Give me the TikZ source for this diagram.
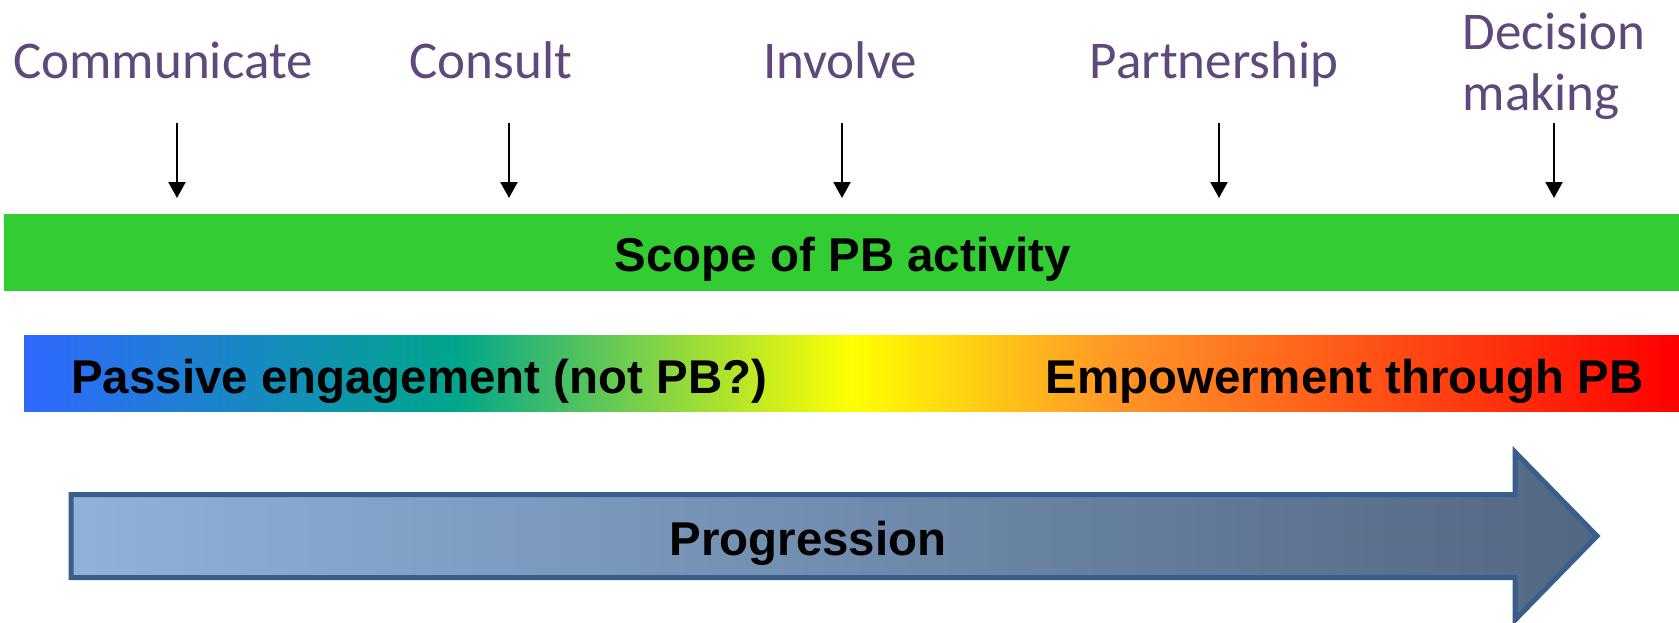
\documentclass[tikz,border=0pt]{standalone}
\usepackage{fontspec}
\setmainfont{Liberation Sans}
\newfontfamily\lblfont{Carlito}
\usetikzlibrary{arrows.meta,positioning}
\definecolor{lblpurple}{RGB}{95,73,122}
\definecolor{scopegreen}{RGB}{51,204,51}
\definecolor{pbblue}{RGB}{48,104,255}
\definecolor{pbteal}{RGB}{0,166,140}
\definecolor{pbyellow}{RGB}{255,255,0}
\definecolor{pborange}{RGB}{255,150,40}
\definecolor{pbred}{RGB}{255,0,0}
\definecolor{arrlight}{RGB}{143,177,218}
\definecolor{arrdark}{RGB}{82,103,130}
\definecolor{arrborder}{RGB}{58,94,140}
% blue -> yellow -> red scale
\pgfdeclarehorizontalshading{pbscale}{100bp}{color(0bp)=(pbblue); color(25bp)=(pbblue); color(38bp)=(pbteal); color(50bp)=(pbyellow); color(58bp)=(pborange); color(75bp)=(pbred); color(100bp)=(pbred)}

\begin{document}
\begin{tikzpicture}[x=0.02cm,y=-0.02cm,
		lbl/.style={font=\lblfont\fontsize{30.2}{34.5}\selectfont,text=lblpurple,inner sep=0pt,anchor=base,align=left},
		bartext/.style={font=\bfseries\fontsize{27}{32}\selectfont,inner sep=0pt},
		pointer/.style={-{Triangle[width=0.34cm,length=0.32cm]},line width=1.3pt},
		progarrow/.style={draw=arrborder,line width=0.1cm,left color=arrlight,right color=arrdark}]
		\useasboundingbox (0,0) rectangle (1679,622);
		% levels
		\node[lbl] (comm) at (163,78) {Communicate};
		\node[lbl] (cons) at (491,78) {Consult};
		\node[lbl] (invo) at (840,78) {Involve};
		\node[lbl] (part) at (1214,78) {Partnership};
		\node[lbl] (deci) at (1554,110) {Decision\\making};
		\foreach \n/\x in {comm/177,cons/509,invo/842,part/1219,deci/1554}
		{
			\coordinate (\n top) at (\x,123);
			\coordinate (\n tip) at (\x,198);
			\draw[pointer] (\n top) -- (\n tip);
		}
		% scope bar
		\node[fill=scopegreen,minimum width=33.5cm,minimum height=1.54cm,inner sep=0pt] (scope) at (841.5,252.5) {};
		\node[bartext,anchor=base] (scopetxt) at (843,271) {Scope of PB activity};
		% colour scale
		\node[shading=pbscale,minimum width=33.1cm,minimum height=1.54cm,inner sep=0pt] (scale) at (851.5,373.5) {};
		\node[bartext,anchor=base west] (passive) at (71,393) {Passive engagement (not PB?)};
		\node[bartext,anchor=base east] (empower) at (1644,393) {Empowerment through PB};
		% progression arrow
		\draw[progarrow] (71,494.5) -- (1515,494.5) -- (1515,452) -- (1597,536) -- (1515,620) -- (1515,577.5) -- (71,577.5) -- cycle;
		\node[bartext,anchor=base] (prog) at (808,555) {Progression};
\end{tikzpicture}
\end{document}
